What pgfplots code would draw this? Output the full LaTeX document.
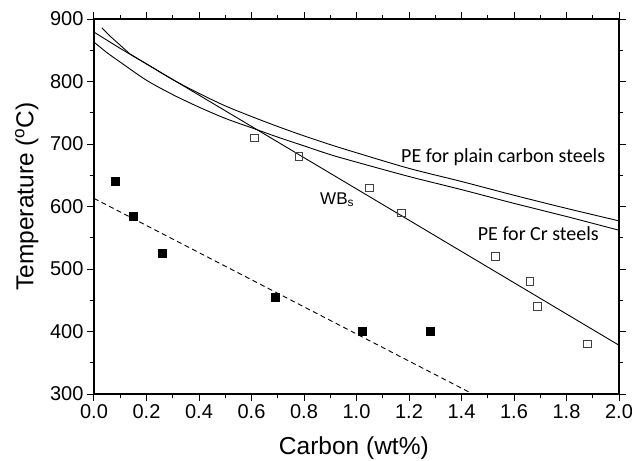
\documentclass[border=0pt]{standalone}
\usepackage{pgfplots}
\pgfplotsset{compat=1.18}
\usepackage{fontspec}
\setmainfont{Liberation Sans}
\newfontfamily\calibri{Carlito}
\begin{document}
\begin{tikzpicture}
\useasboundingbox (-94bp,-67bp) rectangle (538bp,394bp);
\begin{axis}[
  at={(0,0)}, anchor=south west,
  scale only axis, width=525bp, height=375bp,
  xmin=0, xmax=2, ymin=300, ymax=900,
  xtick={0,0.2,0.4,0.6,0.8,1.0,1.2,1.4,1.6,1.8,2.0},
  ytick={300,400,500,600,700,800,900},
  minor x tick num=1, minor y tick num=1,
  tick align=outside,
  major tick length=7bp, minor tick length=4bp,
  every tick/.style={line width=1bp, black},
  axis line style={line width=1.2bp},
  /pgf/number format/assume math mode=true,
  xticklabel style={/pgf/number format/.cd, fixed, fixed zerofill, precision=1},
  ticklabel style={font=\fontsize{20bp}{23bp}\selectfont},
  xlabel={Carbon (wt\%)},
  ylabel={Temperature (\textsuperscript{o}C)},
  label style={font=\fontsize{24.5bp}{28bp}\selectfont},
  xlabel style={at={(axis description cs:0.495,-0.162)}, anchor=base},
  ylabel style={at={(axis description cs:-0.1156,0.527)}, anchor=base},
]
% dashed fit line
\addplot[black, line width=0.9bp, dash pattern=on 5bp off 3.5bp] coordinates {(0,613) (1.443,300)};
% PE plain carbon steels
\addplot[black, line width=0.9bp, smooth] coordinates {
(0,879) (0.1,853) (0.2,828) (0.3,803) (0.4,781) (0.5,761) (0.6,744) (0.7,728) (0.8,713) (0.9,699) (1.0,686) (1.2,661) (1.4,640) (1.6,618) (1.8,597) (2.0,577)};
% PE Cr steels
\addplot[black, line width=0.9bp, smooth] coordinates {
(0,863) (0.05,846) (0.1,831) (0.2,802) (0.3,779) (0.4,759) (0.5,741) (0.6,726) (0.7,711) (0.8,697) (0.9,683) (1.0,671) (1.2,648) (1.4,627) (1.6,605) (1.8,584) (2.0,562)};
% WBs
\addplot[black, line width=0.9bp] coordinates {
(0.03,886) (0.06,873) (0.1,858) (0.137,844) (2.0,378)};
% filled squares
\addplot[only marks, mark=square*, mark size=4bp, black] coordinates {
(0.08,640) (0.15,585) (0.26,525) (0.69,455) (1.02,400) (1.28,400)};
% open squares
\addplot[only marks, mark=square, mark size=3.8bp, mark options={draw=black!75, fill=white, line width=0.8bp}] coordinates {
(0.61,710) (0.78,680) (1.05,630) (1.17,590) (1.53,520) (1.66,480) (1.69,440) (1.88,380)};
\node[anchor=base west, inner sep=0, font=\calibri\fontsize{20bp}{24bp}\selectfont] at (axis cs:1.1695,670.7) {PE for plain carbon steels};
\node[anchor=base west, inner sep=0, font=\calibri\fontsize{20bp}{24bp}\selectfont] at (axis cs:1.4617,545.3) {PE for Cr steels};
\node[anchor=base west, inner sep=0, font=\fontsize{17bp}{20bp}\selectfont] at (axis cs:0.861,604) {WB\textsubscript{s}};
\end{axis}
\end{tikzpicture}
\end{document}
